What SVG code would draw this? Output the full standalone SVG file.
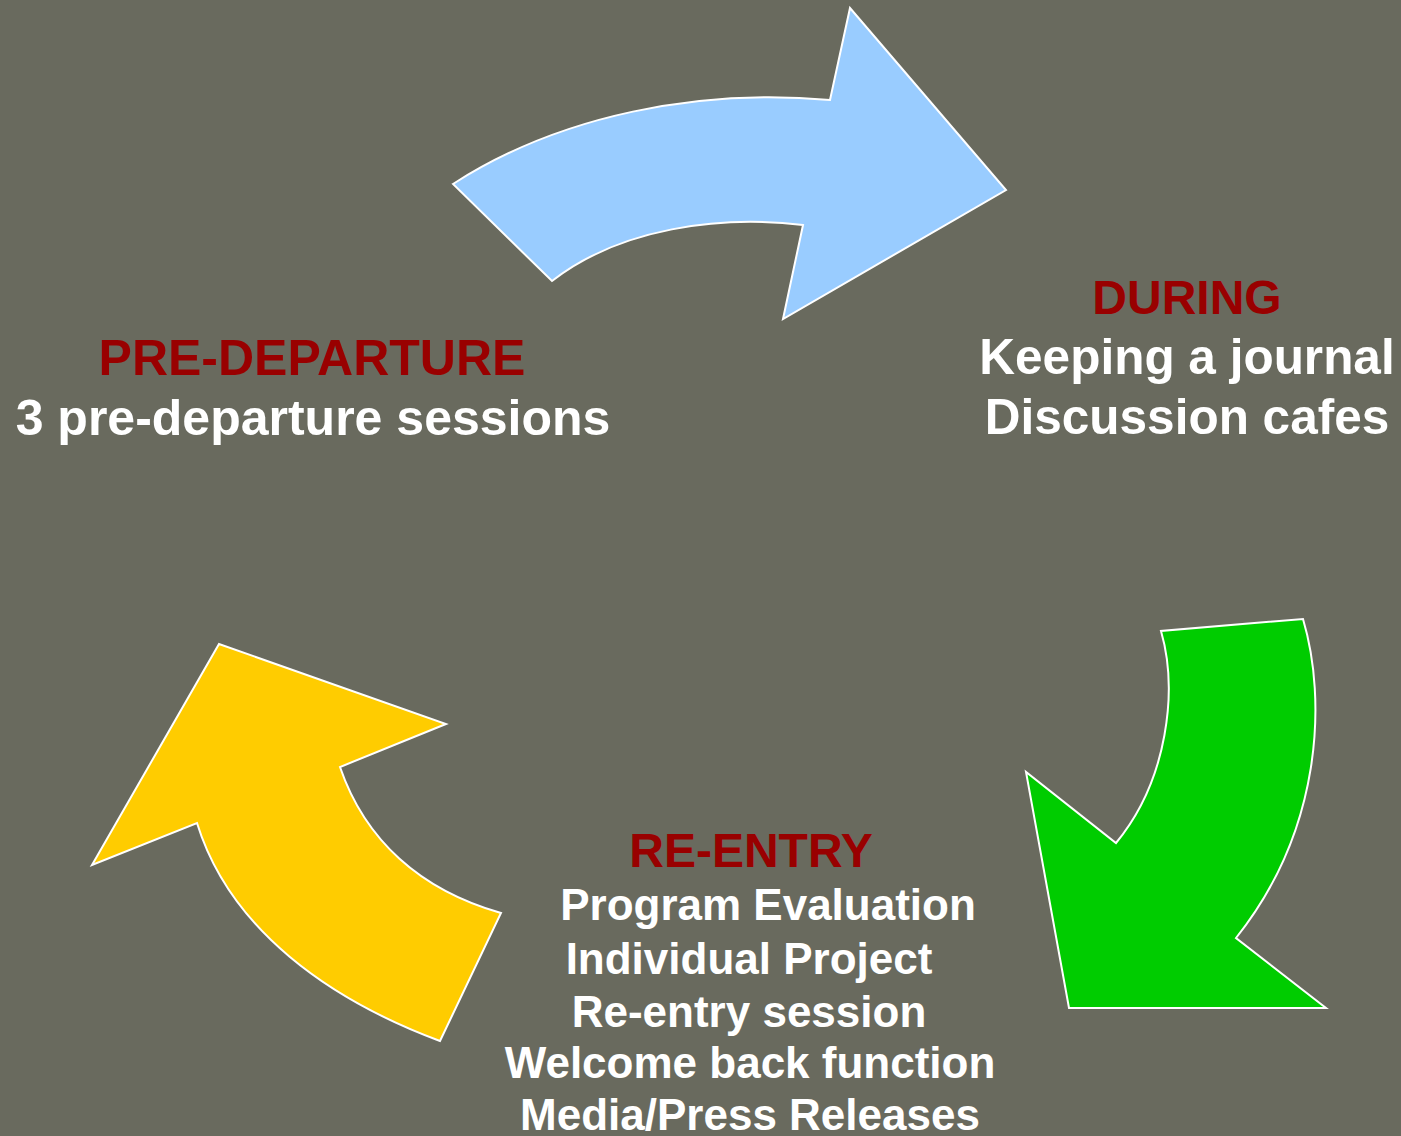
<svg xmlns="http://www.w3.org/2000/svg" width="1401" height="1136" viewBox="0 0 1401 1136">
  <style>
    .arrow { stroke: #ffffff; stroke-width: 2; stroke-linejoin: miter; }
    .head { font-family: "Liberation Sans", Arial, sans-serif; font-weight: bold; font-size: 48px; fill: #990000; text-anchor: middle; }
    .item { font-family: "Liberation Sans", Arial, sans-serif; font-weight: bold; font-size: 49.5px; fill: #ffffff; text-anchor: middle; }
    .item-sm { font-family: "Liberation Sans", Arial, sans-serif; font-weight: bold; font-size: 44px; fill: #ffffff; text-anchor: middle; }
    .large { font-size: 50px; }
  </style>
  <rect width="1401" height="1136" fill="#696A5E"/>

  <!-- curved cycle arrows -->
  <g id="connectors">
    <path id="arrow-to-during" class="arrow" fill="#99CCFF"
          d="M453,184 C560,115 700,88 830,100 L850,8 L1006,190 L783,319 L803,225 C720,215 620,228 552,281 Z"/>
    <path id="arrow-to-reentry" class="arrow" fill="#00CC00"
          d="M1303,619 C1327,700 1322,830 1236,938 L1326,1008 L1069,1008 L1026,772 L1116,843 C1168,780 1178,690 1161,631 Z"/>
    <path id="arrow-to-predeparture" class="arrow" fill="#FFCC00"
          d="M501,913 C420,890 365,840 340,767 L446,724 L219,644 L92,865 L197,823 C230,930 330,1000 440,1041 Z"/>
  </g>

  <g id="pre-departure">
    <text class="head large" x="312" y="375">PRE-DEPARTURE</text>
    <text class="item large" x="313" y="435">3 pre-departure sessions</text>
  </g>

  <g id="during">
    <text class="head" x="1187" y="314">DURING</text>
    <text class="item" x="1187" y="374">Keeping a journal</text>
    <text class="item" x="1187" y="434">Discussion cafes</text>
  </g>

  <g id="re-entry">
    <text class="head" x="751" y="867">RE-ENTRY</text>
    <text class="item-sm" x="768" y="920">Program Evaluation</text>
    <text class="item-sm" x="749" y="974">Individual Project</text>
    <text class="item-sm" x="749" y="1027">Re-entry session</text>
    <text class="item-sm" x="750" y="1078">Welcome back function</text>
    <text class="item-sm" x="750" y="1130">Media/Press Releases</text>
  </g>
</svg>
